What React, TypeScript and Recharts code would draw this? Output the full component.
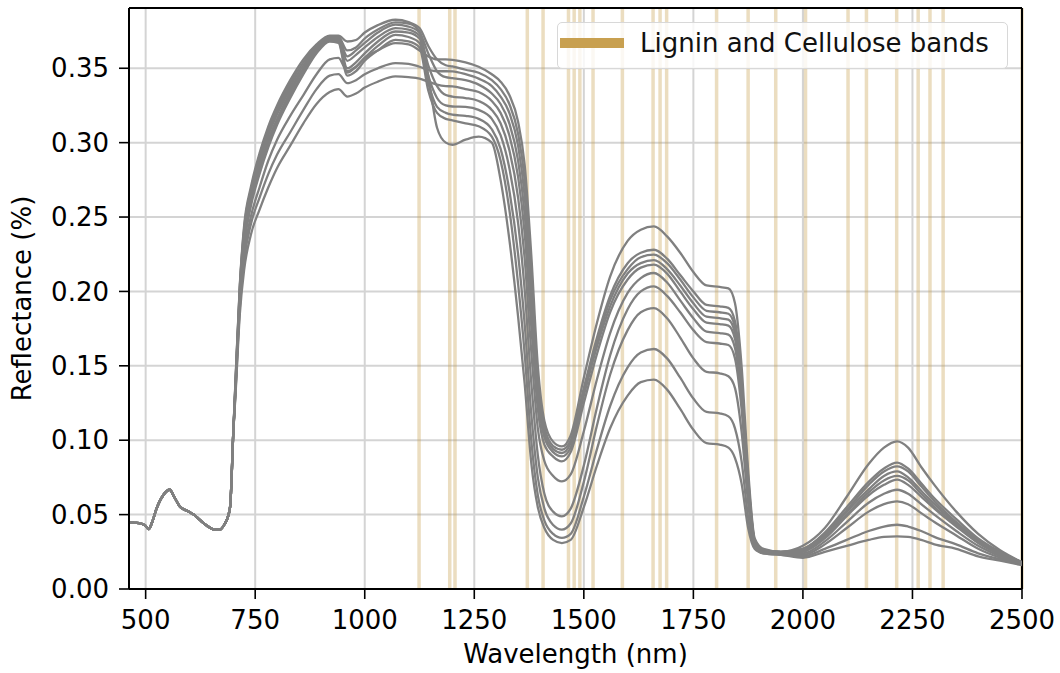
import React from 'react';
import {
  LineChart,
  Line,
  XAxis,
  YAxis,
  CartesianGrid,
  ReferenceLine
} from 'recharts';

// visible range, all spectra share the same curve
const visibleWavelengths = [462, 475, 490, 500, 507, 515, 524, 540, 555, 565, 578, 597, 610, 623, 640, 657, 670, 680, 688, 693, 700];
const visibleReflectance = [0.0448, 0.0445, 0.044, 0.0425, 0.0403, 0.045, 0.0533, 0.063, 0.0667, 0.062, 0.0555, 0.0522, 0.05, 0.0466, 0.0425, 0.0399, 0.04, 0.0435, 0.0488, 0.056, 0.105];

// red edge + NIR plateau
const nirWavelengths = [705, 715, 725, 740, 760, 780, 800, 830, 860, 890, 920, 940, 960, 980, 1000, 1030, 1070, 1100, 1125, 1145, 1165, 1185];
const nirSample1 = [0.133, 0.192, 0.226, 0.25, 0.27, 0.288, 0.302, 0.318, 0.332, 0.346, 0.356, 0.357, 0.348, 0.351, 0.357, 0.362, 0.3669, 0.366, 0.362, 0.358, 0.356, 0.356];
const nirSample2 = [0.14, 0.205, 0.245, 0.27, 0.293, 0.311, 0.325, 0.342, 0.356, 0.366, 0.372, 0.372, 0.368, 0.369, 0.374, 0.379, 0.3826, 0.381, 0.377, 0.365, 0.356, 0.352];
const nirSample3 = [0.132, 0.189, 0.221, 0.245, 0.263, 0.279, 0.292, 0.307, 0.322, 0.336, 0.345, 0.346, 0.34, 0.342, 0.346, 0.35, 0.3535, 0.353, 0.351, 0.349, 0.348, 0.348];
const nirSample4 = [0.138, 0.203, 0.241, 0.266, 0.289, 0.307, 0.321, 0.338, 0.352, 0.364, 0.37, 0.37, 0.358, 0.362, 0.367, 0.374, 0.3793, 0.378, 0.374, 0.36, 0.348, 0.344];
const nirSample5 = [0.13, 0.185, 0.215, 0.238, 0.255, 0.27, 0.283, 0.298, 0.313, 0.326, 0.334, 0.336, 0.331, 0.333, 0.337, 0.341, 0.3445, 0.344, 0.343, 0.341, 0.339, 0.338];
const nirSample6 = [0.137, 0.201, 0.239, 0.264, 0.287, 0.305, 0.319, 0.336, 0.35, 0.363, 0.37, 0.37, 0.355, 0.359, 0.364, 0.371, 0.377, 0.376, 0.372, 0.352, 0.338, 0.332];
const nirSample7 = [0.136, 0.199, 0.237, 0.262, 0.284, 0.302, 0.316, 0.334, 0.349, 0.362, 0.369, 0.369, 0.35, 0.354, 0.36, 0.368, 0.3747, 0.374, 0.37, 0.345, 0.33, 0.325];
const nirSample8 = [0.135, 0.197, 0.234, 0.26, 0.282, 0.3, 0.314, 0.332, 0.347, 0.361, 0.369, 0.368, 0.347, 0.351, 0.357, 0.365, 0.3725, 0.371, 0.367, 0.34, 0.324, 0.32];
const nirSample9 = [0.134, 0.195, 0.231, 0.257, 0.279, 0.297, 0.312, 0.33, 0.346, 0.36, 0.368, 0.367, 0.345, 0.348, 0.355, 0.362, 0.3691, 0.368, 0.364, 0.335, 0.32, 0.316];
const nirSample10 = [0.139, 0.204, 0.243, 0.268, 0.291, 0.309, 0.323, 0.34, 0.354, 0.365, 0.371, 0.371, 0.362, 0.364, 0.37, 0.376, 0.3808, 0.38, 0.375, 0.345, 0.31, 0.3];

// SWIR
const swirWavelengths = [1200, 1230, 1260, 1290, 1310, 1330, 1350, 1365, 1380, 1395, 1410, 1430, 1450, 1470, 1500, 1530, 1560, 1600, 1630, 1660, 1690, 1720, 1750, 1780, 1810, 1830, 1845, 1860, 1875, 1890, 1910, 1950, 2000, 2050, 2100, 2150, 2185, 2215, 2240, 2270, 2300, 2350, 2400, 2450, 2500];
const swirSample1 = [0.3557, 0.354, 0.351, 0.346, 0.341, 0.332, 0.314, 0.285, 0.225, 0.15, 0.113, 0.099, 0.0958, 0.1032, 0.142, 0.179, 0.21, 0.234, 0.2415, 0.2437, 0.237, 0.226, 0.213, 0.204, 0.203, 0.202, 0.192, 0.15, 0.08, 0.034, 0.027, 0.025, 0.029, 0.041, 0.062, 0.084, 0.095, 0.0992, 0.095, 0.082, 0.07, 0.052, 0.037, 0.026, 0.018];
const swirSample2 = [0.3512, 0.349, 0.347, 0.342, 0.336, 0.326, 0.306, 0.275, 0.213, 0.143, 0.109, 0.096, 0.0936, 0.1, 0.135, 0.169, 0.197, 0.219, 0.226, 0.228, 0.222, 0.211, 0.2, 0.191, 0.19, 0.189, 0.18, 0.14, 0.075, 0.033, 0.026, 0.025, 0.027, 0.038, 0.055, 0.072, 0.081, 0.085, 0.081, 0.071, 0.061, 0.047, 0.034, 0.025, 0.018];
const swirSample3 = [0.3479, 0.346, 0.343, 0.338, 0.331, 0.32, 0.298, 0.264, 0.201, 0.136, 0.105, 0.094, 0.0914, 0.098, 0.133, 0.166, 0.194, 0.215, 0.223, 0.2247, 0.219, 0.208, 0.196, 0.187, 0.186, 0.185, 0.176, 0.137, 0.073, 0.032, 0.026, 0.025, 0.027, 0.037, 0.053, 0.07, 0.079, 0.0824, 0.079, 0.069, 0.059, 0.045, 0.033, 0.024, 0.018];
const swirSample4 = [0.3434, 0.342, 0.339, 0.333, 0.326, 0.313, 0.288, 0.252, 0.19, 0.129, 0.102, 0.092, 0.0891, 0.095, 0.13, 0.163, 0.19, 0.212, 0.219, 0.221, 0.215, 0.204, 0.192, 0.183, 0.182, 0.181, 0.172, 0.134, 0.072, 0.032, 0.026, 0.025, 0.026, 0.036, 0.052, 0.067, 0.076, 0.079, 0.075, 0.066, 0.057, 0.044, 0.032, 0.024, 0.018];
const swirSample5 = [0.3378, 0.336, 0.334, 0.328, 0.32, 0.305, 0.277, 0.239, 0.177, 0.121, 0.097, 0.089, 0.0858, 0.092, 0.125, 0.158, 0.186, 0.208, 0.216, 0.218, 0.212, 0.2, 0.188, 0.179, 0.178, 0.177, 0.168, 0.131, 0.07, 0.031, 0.025, 0.024, 0.026, 0.035, 0.05, 0.065, 0.073, 0.076, 0.073, 0.064, 0.055, 0.043, 0.031, 0.023, 0.017];
const swirSample6 = [0.331, 0.33, 0.328, 0.322, 0.313, 0.295, 0.263, 0.222, 0.16, 0.108, 0.086, 0.076, 0.0723, 0.077, 0.106, 0.141, 0.172, 0.199, 0.209, 0.2124, 0.206, 0.194, 0.182, 0.173, 0.172, 0.171, 0.162, 0.127, 0.068, 0.031, 0.025, 0.024, 0.025, 0.034, 0.049, 0.063, 0.07, 0.0735, 0.07, 0.062, 0.054, 0.042, 0.031, 0.023, 0.017];
const swirSample7 = [0.3243, 0.324, 0.322, 0.316, 0.305, 0.283, 0.246, 0.201, 0.139, 0.09, 0.064, 0.052, 0.0488, 0.054, 0.083, 0.122, 0.157, 0.188, 0.2, 0.2034, 0.197, 0.186, 0.174, 0.166, 0.165, 0.164, 0.155, 0.121, 0.065, 0.03, 0.025, 0.024, 0.024, 0.032, 0.045, 0.058, 0.064, 0.0667, 0.064, 0.057, 0.05, 0.039, 0.029, 0.022, 0.017];
const swirSample8 = [0.3188, 0.318, 0.316, 0.309, 0.296, 0.268, 0.225, 0.178, 0.118, 0.075, 0.054, 0.043, 0.0399, 0.044, 0.072, 0.11, 0.144, 0.174, 0.186, 0.1888, 0.182, 0.169, 0.155, 0.146, 0.145, 0.143, 0.135, 0.106, 0.058, 0.029, 0.025, 0.024, 0.023, 0.03, 0.041, 0.052, 0.057, 0.0589, 0.057, 0.051, 0.045, 0.036, 0.027, 0.021, 0.017];
const swirSample9 = [0.315, 0.313, 0.311, 0.304, 0.288, 0.255, 0.205, 0.158, 0.1, 0.063, 0.046, 0.037, 0.0343, 0.037, 0.062, 0.094, 0.123, 0.149, 0.159, 0.1613, 0.155, 0.142, 0.128, 0.119, 0.118, 0.116, 0.108, 0.086, 0.048, 0.028, 0.024, 0.023, 0.022, 0.027, 0.033, 0.039, 0.042, 0.0432, 0.042, 0.039, 0.035, 0.03, 0.024, 0.02, 0.017];
const swirSample10 = [0.2986, 0.302, 0.304, 0.3, 0.275, 0.235, 0.183, 0.138, 0.085, 0.055, 0.041, 0.033, 0.0309, 0.033, 0.055, 0.083, 0.108, 0.13, 0.139, 0.1407, 0.134, 0.121, 0.107, 0.098, 0.097, 0.095, 0.088, 0.071, 0.041, 0.027, 0.024, 0.023, 0.021, 0.025, 0.029, 0.033, 0.035, 0.0354, 0.035, 0.033, 0.03, 0.027, 0.022, 0.019, 0.016];

const nirSamples = [nirSample1, nirSample2, nirSample3, nirSample4, nirSample5, nirSample6, nirSample7, nirSample8, nirSample9, nirSample10];
const swirSamples = [swirSample1, swirSample2, swirSample3, swirSample4, swirSample5, swirSample6, swirSample7, swirSample8, swirSample9, swirSample10];

// lignin / cellulose absorption features (nm)
const ligninCelluloseBands = [1124, 1194, 1206, 1371, 1407, 1465, 1478, 1491, 1521, 1588, 1658, 1674, 1689, 1803, 1875, 1938, 2006, 2103, 2145, 2214, 2263, 2290, 2320, 2500];

const xTicks = [500, 750, 1000, 1250, 1500, 1750, 2000, 2250, 2500];
const yTicks = [0, 0.05, 0.1, 0.15, 0.2, 0.25, 0.3, 0.35];

const X_MIN = 462;
const X_MAX = 2500;
const Y_MAX = 0.3905;
const BAND_COLOR = '#c8a050';
const FONT = "'DejaVu Sans', sans-serif";

const rows: Record<string, number>[] = [];
visibleWavelengths.forEach((wl, i) => {
  const row: Record<string, number> = { wl };
  nirSamples.forEach((_, k) => { row[`s${k}`] = visibleReflectance[i]; });
  rows.push(row);
});
nirWavelengths.forEach((wl, i) => {
  const row: Record<string, number> = { wl };
  nirSamples.forEach((s, k) => { row[`s${k}`] = s[i]; });
  rows.push(row);
});
swirWavelengths.forEach((wl, i) => {
  const row: Record<string, number> = { wl };
  swirSamples.forEach((s, k) => { row[`s${k}`] = s[i]; });
  rows.push(row);
});

const tickStyle = { fill: '#000', fontSize: 26, fontFamily: FONT };

export default function App() {
  return (
    <div style={{ position: 'absolute', left: 0, top: 0, width: 1060, height: 673, background: '#fff' }}>
      <LineChart
        width={1060}
        height={673}
        data={rows}
        margin={{ top: 8, right: 38, bottom: 0, left: 0 }}
      >
        <CartesianGrid stroke="#d4d4d4" strokeWidth={2} />
        {ligninCelluloseBands.map((b) => (
          <ReferenceLine
            key={`band-${b}`}
            x={b}
            stroke={BAND_COLOR}
            strokeOpacity={0.36}
            strokeWidth={3.5}
          />
        ))}
        {/* top and right spines, drawn after the bands */}
        <ReferenceLine y={Y_MAX} stroke="#000" strokeWidth={2} />
        <ReferenceLine x={X_MAX} stroke="#000" strokeWidth={2} />
        <XAxis
          dataKey="wl"
          type="number"
          domain={[X_MIN, X_MAX]}
          ticks={xTicks}
          allowDataOverflow
          height={84}
          tickSize={10}
          tickMargin={12}
          tick={tickStyle}
          axisLine={{ stroke: '#000', strokeWidth: 2 }}
          tickLine={{ stroke: '#000', strokeWidth: 1.6 }}
          label={{ value: 'Wavelength (nm)', position: 'insideBottom', offset: 10, fill: '#000', fontSize: 26, fontFamily: FONT }}
        />
        <YAxis
          type="number"
          domain={[0, Y_MAX]}
          ticks={yTicks}
          allowDataOverflow
          width={129}
          tickSize={10}
          tickMargin={10}
          tick={tickStyle}
          tickFormatter={(v: number) => v.toFixed(2)}
          axisLine={{ stroke: '#000', strokeWidth: 2 }}
          tickLine={{ stroke: '#000', strokeWidth: 1.6 }}
          label={{
            value: 'Reflectance (%)',
            angle: -90,
            position: 'insideLeft',
            offset: 22,
            fill: '#000',
            fontSize: 26,
            fontFamily: FONT,
            style: { textAnchor: 'middle' }
          }}
        />
        {swirSamples.map((_, k) => (
          <Line
            key={`s${k}`}
            dataKey={`s${k}`}
            type="monotone"
            stroke="#808080"
            strokeWidth={2.3}
            dot={false}
            activeDot={false}
            isAnimationActive={false}
          />
        ))}
      </LineChart>
      <div
        style={{
          position: 'absolute',
          left: 557,
          top: 22,
          width: 451,
          height: 47,
          boxSizing: 'border-box',
          border: '1.5px solid #d8d8d8',
          borderRadius: 5,
          background: 'rgba(255,255,255,0.8)',
          fontFamily: FONT,
          fontSize: 26
        }}
      >
        <div style={{ position: 'absolute', left: 2, top: 15, width: 64, height: 10, background: BAND_COLOR }} />
        <div style={{ position: 'absolute', left: 82, top: 7, lineHeight: '26px', color: '#111', whiteSpace: 'nowrap' }}>
          Lignin and Cellulose bands
        </div>
      </div>
    </div>
  );
}
